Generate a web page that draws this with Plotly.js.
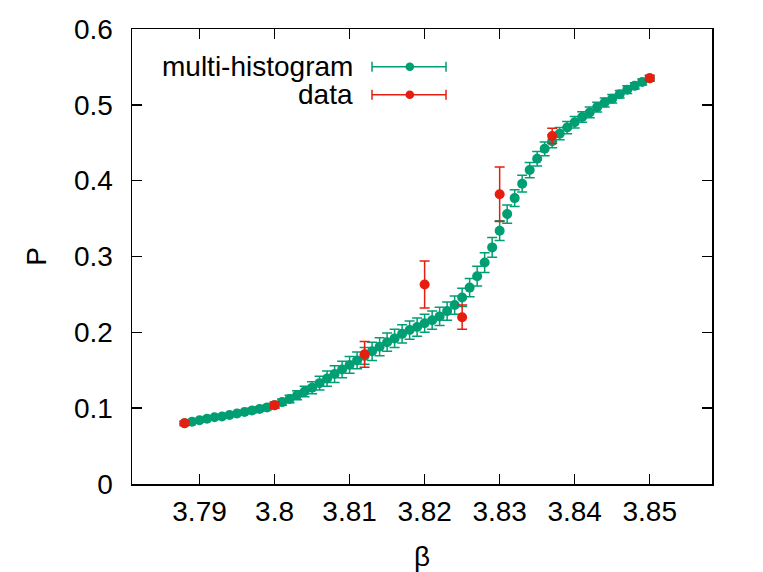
<!DOCTYPE html>
<html>
<head>
<meta charset="utf-8">
<script src="https://cdn.plot.ly/plotly-3.0.1.min.js"></script>
<style>
  html, body { margin: 0; padding: 0; background: #fff; }
  #chart { width: 763px; height: 572px; }
</style>
</head>
<body>
<div id="chart"></div>
<script>
// multi-histogram reweighting curve
const mhBeta = [3.788, 3.789, 3.790, 3.791, 3.792, 3.793, 3.794, 3.795, 3.796, 3.797,
  3.798, 3.799, 3.800, 3.801, 3.802, 3.803, 3.804, 3.805, 3.806, 3.807,
  3.808, 3.809, 3.810, 3.811, 3.812, 3.813, 3.814, 3.815, 3.816, 3.817,
  3.818, 3.819, 3.820, 3.821, 3.822, 3.823, 3.824, 3.825, 3.826, 3.827,
  3.828, 3.829, 3.830, 3.831, 3.832, 3.833, 3.834, 3.835, 3.836, 3.837,
  3.838, 3.839, 3.840, 3.841, 3.842, 3.843, 3.844, 3.845, 3.846, 3.847,
  3.848, 3.849, 3.850];
const mhP = [0.080, 0.082, 0.084, 0.086, 0.088, 0.089, 0.091, 0.093, 0.095, 0.097,
  0.099, 0.101, 0.104, 0.108, 0.112, 0.117, 0.122, 0.127, 0.133, 0.139,
  0.145, 0.151, 0.157, 0.163, 0.169, 0.175, 0.181, 0.187, 0.192, 0.198,
  0.203, 0.207, 0.212, 0.216, 0.221, 0.228, 0.236, 0.246, 0.259, 0.274,
  0.292, 0.312, 0.334, 0.356, 0.377, 0.396, 0.414, 0.429, 0.442, 0.452,
  0.462, 0.470, 0.477, 0.484, 0.490, 0.497, 0.503, 0.508, 0.514, 0.520,
  0.525, 0.530, 0.535];
const mhErr = [0.002, 0.002, 0.002, 0.002, 0.002, 0.002, 0.002, 0.002, 0.002, 0.003,
  0.003, 0.003, 0.003, 0.004, 0.005, 0.006, 0.007, 0.008, 0.009, 0.010,
  0.011, 0.011, 0.011, 0.011, 0.011, 0.012, 0.012, 0.012, 0.012, 0.012,
  0.012, 0.012, 0.012, 0.012, 0.012, 0.012, 0.012, 0.012, 0.012, 0.013,
  0.013, 0.013, 0.013, 0.012, 0.011, 0.011, 0.010, 0.0095, 0.009, 0.0085,
  0.008, 0.008, 0.0075, 0.007, 0.007, 0.0065, 0.006, 0.0055, 0.005, 0.005,
  0.004, 0.004, 0.003];

// simulation data
const dataBeta = [3.788, 3.800, 3.812, 3.820, 3.825, 3.830, 3.837, 3.850];
const dataP = [0.080, 0.104, 0.171, 0.263, 0.220, 0.382, 0.459, 0.535];
const dataErr = [0.003, 0.004, 0.017, 0.031, 0.016, 0.036, 0.010, 0.004];

const green = '#009e73';
const red = '#e51e10';
const fontFam = '"Liberation Sans", Arial, sans-serif';
const fs = 28;

const traces = [
  {
    x: mhBeta, y: mhP, type: 'scatter', mode: 'markers', name: 'multi-histogram',
    marker: {color: green, size: 10},
    error_y: {type: 'data', array: mhErr, visible: true, color: green, thickness: 1.5, width: 5}
  },
  {
    x: dataBeta, y: dataP, type: 'scatter', mode: 'markers', name: 'data',
    marker: {color: red, size: 10},
    error_y: {type: 'data', array: dataErr, visible: true, color: red, thickness: 1.5, width: 5}
  }
];

// hand-made legend, gnuplot style: text on the left, sample on the right
const legX = 0.3845, sx0 = 0.4138, sx1 = 0.5414, sxm = 0.479;
const rows = [
  {y: 0.917, label: 'multi-histogram', color: green},
  {y: 0.8556, label: 'data', color: red}
];
const annotations = [];
const shapes = [];
rows.forEach(r => {
  annotations.push({
    xref: 'paper', yref: 'paper', x: legX, y: r.y, xanchor: 'right', yanchor: 'middle',
    text: r.label, showarrow: false, font: {family: fontFam, size: fs, color: '#000'}
  });
  shapes.push({type: 'line', xref: 'paper', yref: 'paper', x0: sx0, x1: sx1, y0: r.y, y1: r.y,
    line: {color: r.color, width: 1.5}});
  [sx0, sx1].forEach(cx => shapes.push({type: 'line', xref: 'paper', yref: 'paper',
    x0: cx, x1: cx, y0: r.y - 0.011, y1: r.y + 0.011, line: {color: r.color, width: 1.5}}));
  shapes.push({type: 'circle', xref: 'paper', yref: 'paper',
    x0: sxm - 0.0075, x1: sxm + 0.0075, y0: r.y - 0.0095, y1: r.y + 0.0095,
    fillcolor: r.color, line: {color: r.color, width: 0}});
});

const axisCommon = {
  showline: true, linecolor: '#000', linewidth: 1.5, mirror: 'allticks',
  ticks: 'inside', ticklen: 10, tickwidth: 1.5, tickcolor: '#000',
  showgrid: false, zeroline: false,
  tickfont: {family: fontFam, size: fs, color: '#000'}
};

const layout = {
  width: 763, height: 572,
  margin: {l: 132, r: 51, t: 29, b: 88},
  paper_bgcolor: '#fff', plot_bgcolor: '#fff',
  showlegend: false,
  font: {family: fontFam, color: '#000'},
  xaxis: Object.assign({}, axisCommon, {
    range: [3.781, 3.8583],
    tickvals: [3.79, 3.80, 3.81, 3.82, 3.83, 3.84, 3.85],
    ticktext: ['3.79', '3.8', '3.81', '3.82', '3.83', '3.84', '3.85'],
    ticklabelstandoff: 2,
    title: {text: 'β', font: {family: fontFam, size: fs}, standoff: 20}
  }),
  yaxis: Object.assign({}, axisCommon, {
    range: [0, 0.6],
    tickvals: [0, 0.1, 0.2, 0.3, 0.4, 0.5, 0.6],
    ticktext: ['0', '0.1', '0.2', '0.3', '0.4', '0.5', '0.6'],
    ticklabelstandoff: 12,
    title: {text: 'P', font: {family: fontFam, size: fs}, standoff: 19}
  }),
  annotations: annotations,
  shapes: shapes
};

Plotly.newPlot('chart', traces, layout, {displayModeBar: false, staticPlot: true});
</script>
</body>
</html>
